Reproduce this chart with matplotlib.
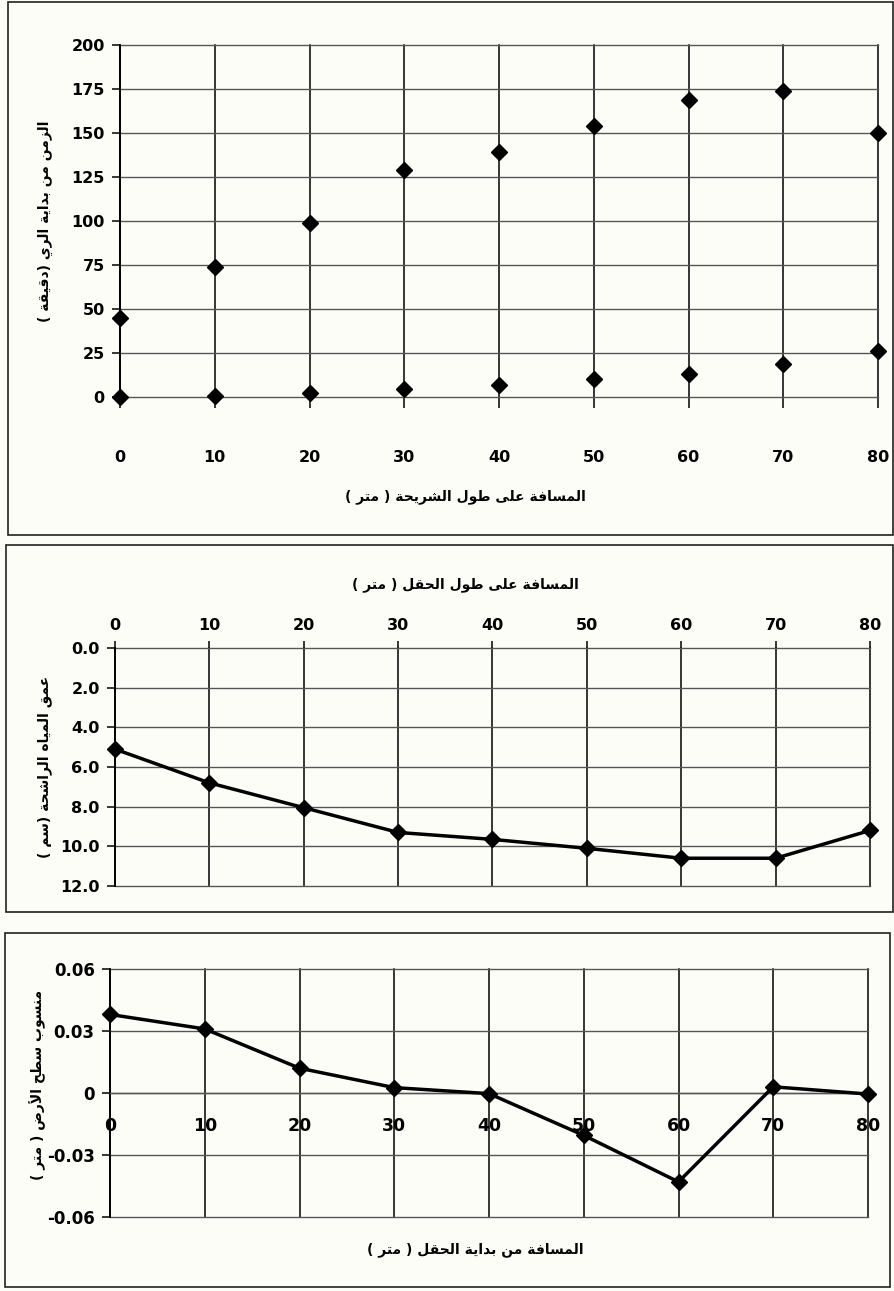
import numpy as np
import matplotlib
matplotlib.use('Agg')
import matplotlib.pyplot as plt
from matplotlib.patches import Rectangle

# data
dist = [0, 10, 20, 30, 40, 50, 60, 70, 80]
t_advance = [0, 0.5, 2.5, 4.7, 7, 10, 13, 19, 26]
t_recession = [45, 74, 99, 129, 139, 154, 169, 174, 150]
infil_depth = [5.1, 6.8, 8.05, 9.3, 9.65, 10.1, 10.6, 10.6, 9.2]
ground_level = [0.038, 0.031, 0.012, 0.0026, -0.0003, -0.0205, -0.043, 0.003, -0.0005]

y1_ticks = [0, 25, 50, 75, 100, 125, 150, 175, 200]
y2_ticks = [0, 2, 4, 6, 8, 10, 12]
y2_labels = ['0.0', '2.0', '4.0', '6.0', '8.0', '10.0', '12.0']
y3_ticks = [-0.06, -0.03, 0, 0.03, 0.06]
y3_labels = ['-0.06', '-0.03', '0', '0.03', '0.06']

lbl_time = 'الزمن من بداية الري (دقيقة )'
lbl_strip = 'المسافة على طول الشريحة ( متر )'
lbl_field = 'المسافة على طول الحقل ( متر )'
lbl_depth = 'عمق المياه الراشحة (سم )'
lbl_level = 'منسوب سطح الأرض ( متر )'
lbl_start = 'المسافة من بداية الحقل ( متر )'

# matplotlib has no arabic shaping, so pick presentation forms by hand
DUAL = {'ب': 0xFE8F, 'ت': 0xFE95, 'ح': 0xFEA1, 'س': 0xFEB1, 'ش': 0xFEB5, 'ض': 0xFEBD,
        'ط': 0xFEC1, 'ع': 0xFEC9, 'ف': 0xFED1, 'ق': 0xFED5, 'ل': 0xFEDD, 'م': 0xFEE1,
        'ن': 0xFEE5, 'ه': 0xFEE9, 'ي': 0xFEF1}
RIGHT = {'ا': 0xFE8D, 'أ': 0xFE83, 'ة': 0xFE93, 'د': 0xFEA9, 'ر': 0xFEAD, 'ز': 0xFEAF,
         'و': 0xFEED, 'ى': 0xFEEF}
LAM_ALEF = {'ا': 0xFEFB, 'أ': 0xFEF7}


def shape(text):
    out = []
    i = 0
    while i < len(text):
        c = text[i]
        prev = text[i - 1] if i > 0 else ''
        nxt = text[i + 1] if i + 1 < len(text) else ''
        joins_prev = prev in DUAL
        if c == 'ل' and nxt in LAM_ALEF:
            out.append(chr(LAM_ALEF[nxt] + joins_prev))
            i += 2
            continue
        if c in DUAL:
            joins_next = nxt in DUAL or nxt in RIGHT
            form = [[0, 2], [1, 3]][joins_prev][joins_next]
            out.append(chr(DUAL[c] + form))
        elif c in RIGHT:
            out.append(chr(RIGHT[c] + joins_prev))
        else:
            out.append(c)
        i += 1
    vis = ''.join(reversed(out))
    return vis.translate(str.maketrans('()', ')('))


paper = '#fdfdf8'
W, H = 895, 1291
fig = plt.figure(figsize=(W / 100, H / 100), dpi=100, facecolor=paper)

lab_kw = dict(fontsize=10, fontweight='bold', family='DejaVu Sans', ha='center', va='center')
tick_font = dict(fontsize=11.5, fontweight='bold')


def fx(px):
    return px / W


def fy(py):
    return 1 - py / H


def panel(x0, y0, x1, y1):
    fig.patches.append(Rectangle((fx(x0), fy(y1)), fx(x1) - fx(x0), fy(y0) - fy(y1),
                                 transform=fig.transFigure, fill=False,
                                 edgecolor='#222222', lw=1.2))


def axes_px(x0, y0, x1, y1):
    ax = fig.add_axes([fx(x0), fy(y1), fx(x1) - fx(x0), fy(y0) - fy(y1)])
    ax.set_facecolor('none')
    for s in ['top', 'right', 'bottom']:
        ax.spines[s].set_visible(False)
    ax.spines['left'].set_linewidth(1.3)
    ax.set_axisbelow(True)
    ax.grid(axis='y', color='#555555', lw=1.0)
    ax.grid(axis='x', color='black', lw=1.1)
    ax.set_xlim(0, 80)
    ax.set_xticks(dist)
    return ax


def unclip_grid(ax):
    for ln in ax.get_xgridlines() + ax.get_ygridlines():
        ln.set_clip_on(False)


panel(8, 2, 893, 535)
panel(6, 545, 893, 912)
panel(5, 933, 890, 1287)

# chart 1: advance and recession times
ax1 = axes_px(120, 45, 878, 397)
ax1.plot(dist, t_recession, 'D', color='black', ms=8.5, clip_on=False, zorder=5)
ax1.plot(dist, t_advance, 'D', color='black', ms=8.5, clip_on=False, zorder=5)
ax1.set_ylim(0, 200)
ax1.set_yticks(y1_ticks)
ax1.set_xticklabels([str(v) for v in dist], **tick_font)
ax1.set_yticklabels([str(v) for v in y1_ticks], **tick_font)
ax1.tick_params(axis='x', length=8, pad=30, width=1.1)
ax1.tick_params(axis='y', length=6, pad=5, width=1.1)
unclip_grid(ax1)
fig.text(fx(465), fy(497), shape(lbl_strip), **lab_kw)
fig.text(fx(45), fy(221), shape(lbl_time), rotation=90, **lab_kw)

# chart 2: infiltrated depth, x axis on top
ax2 = axes_px(115, 648, 870, 886)
ax2.plot(dist, infil_depth, '-D', color='black', ms=8.5, lw=2.5, clip_on=False, zorder=5)
ax2.set_ylim(12, 0)
ax2.set_yticks(y2_ticks)
ax2.xaxis.tick_top()
ax2.set_xticklabels([str(v) for v in dist], **tick_font)
ax2.set_yticklabels(y2_labels, **tick_font)
ax2.tick_params(axis='x', length=5, pad=6, width=1.1)
ax2.tick_params(axis='y', length=6, pad=5, width=1.1)
unclip_grid(ax2)
fig.text(fx(465), fy(585), shape(lbl_field), **lab_kw)
fig.text(fx(45), fy(767), shape(lbl_depth), rotation=90, **lab_kw)

# chart 3: ground surface level, x axis crosses at 0
ax3 = axes_px(110, 969, 868, 1217)
ax3.plot(dist, ground_level, '-D', color='black', ms=8.5, lw=2.5, clip_on=False, zorder=5)
ax3.set_ylim(-0.06, 0.06)
ax3.set_yticks(y3_ticks)
ax3.spines['bottom'].set_visible(True)
ax3.spines['bottom'].set_position(('data', 0))
ax3.spines['bottom'].set_color('#555555')
ax3.spines['bottom'].set_linewidth(1.0)
ax3.set_xticklabels([str(v) for v in dist], fontsize=12.5, fontweight='bold')
ax3.set_yticklabels(y3_labels, fontsize=12, fontweight='bold')
ax3.tick_params(axis='x', length=0, pad=17)
ax3.tick_params(axis='y', length=6, pad=5, width=1.1)
unclip_grid(ax3)
fig.text(fx(475), fy(1250), shape(lbl_start), **lab_kw)
fig.text(fx(38), fy(1085), shape(lbl_level), rotation=90, **lab_kw)

fig.savefig('out.png', dpi=100, facecolor=paper)
